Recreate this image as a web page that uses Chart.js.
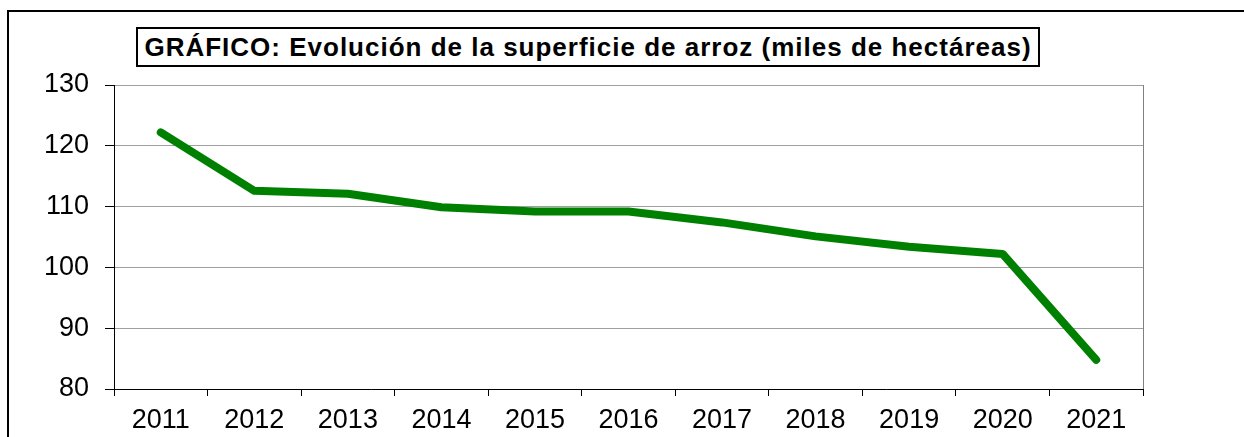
<!DOCTYPE html>
<html>
<head>
<meta charset="utf-8">
<script src="https://cdn.jsdelivr.net/npm/chart.js@4/dist/chart.umd.min.js"></script>
<style>
  html, body { margin: 0; padding: 0; background: #fff; overflow: hidden; }
  #wrap { position: relative; width: 1244px; height: 437px; }
  #frame { position: absolute; left: 7px; top: 10px; width: 1300px; height: 500px; border: 2px solid #000; box-sizing: border-box; }
  #title { position: absolute; left: 136px; top: 27px; width: 904px; height: 40px; border: 2px solid #000; box-sizing: border-box; background: #fff;
           font: bold 26px "Liberation Sans", Arial, sans-serif; letter-spacing: 1px; text-align: center; line-height: 36px; color: #000; white-space: nowrap; z-index: 2; }
  canvas { position: absolute; left: 0; top: 0; }
</style>
</head>
<body>
<div id="wrap">
  <div id="frame"></div>
  <canvas id="chart" width="1244" height="437"></canvas>
  <div id="title">GRÁFICO: Evolución de la superficie de arroz (miles de hectáreas)</div>
</div>
<script>
var years = ['2011', '2012', '2013', '2014', '2015', '2016', '2017', '2018', '2019', '2020', '2021'];
var superficie = [122.2, 112.6, 112.1, 109.9, 109.2, 109.2, 107.4, 105.1, 103.4, 102.2, 84.8];
var yTicks = [80, 90, 100, 110, 120, 130];

// gray right edge of the plot area
var rightEdge = {
    id: 'rightEdge',
    afterDraw: function (chart) {
        var a = chart.chartArea;
        var ctx = chart.ctx;
        ctx.save();
        ctx.strokeStyle = '#808080';
        ctx.lineWidth = 1;
        ctx.beginPath();
        ctx.moveTo(Math.round(a.right) + 0.5, a.top);
        ctx.lineTo(Math.round(a.right) + 0.5, a.bottom);
        ctx.stroke();
        ctx.restore();
    }
};

var chartElement = document.getElementById('chart').getContext('2d');
var chartObject = new Chart(chartElement, {
    type: 'line',
    data: {
        labels: years,
        datasets: [{
            data: superficie,
            borderColor: '#008000',
            borderWidth: 8,
            borderCapStyle: 'round',
            borderJoinStyle: 'round',
            pointRadius: 0,
            tension: 0,
            fill: false
        }]
    },
    options: {
        responsive: false,
        animation: false,
        layout: { padding: { left: 0, top: 85, right: 101, bottom: 0 } },
        plugins: { legend: { display: false }, tooltip: { enabled: false } },
        scales: {
            x: {
                offset: true,
                grid: { offset: true, drawOnChartArea: false, tickLength: 7, color: '#000', lineWidth: 1 },
                border: { color: '#000', width: 1 },
                ticks: { color: '#000', padding: 8, maxRotation: 0, font: { family: '"Liberation Sans", Arial, sans-serif', size: 27 } },
                afterFit: function (scale) { scale.height = 48; }
            },
            y: {
                min: 80,
                max: 130,
                afterBuildTicks: function (scale) {
                    scale.ticks = yTicks.map(function (v) { return { value: v }; });
                },
                grid: { color: '#a0a0a0', tickColor: '#000', tickLength: 9, lineWidth: 1 },
                border: { color: '#000', width: 1 },
                ticks: { color: '#000', padding: 16, font: { family: '"Liberation Sans", Arial, sans-serif', size: 27 } },
                afterFit: function (scale) { scale.width = 114; }
            }
        }
    },
    plugins: [rightEdge]
});
</script>
</body>
</html>
